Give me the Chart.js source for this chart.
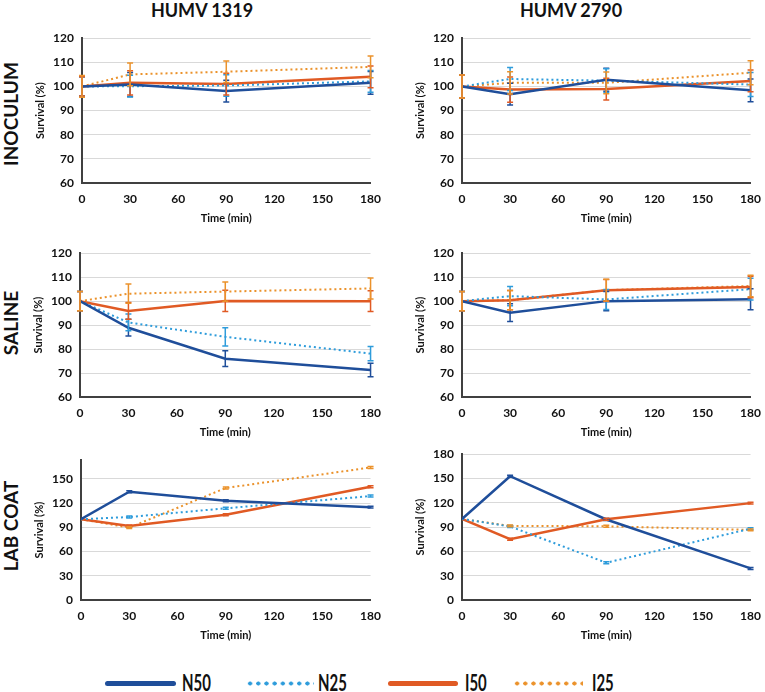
<!DOCTYPE html>
<html lang="en">
<head>
  <meta charset="UTF-8" />
  <title>Survival panels</title>
  <script src="https://cdn.jsdelivr.net/npm/chart.js"></script>
  <style>
    body {
      margin: 0;
      background: #fff;
      font-family: Lato, 'Open Sans', sans-serif;
    }
    .wrap {
      position: relative;
      width: 765px;
      height: 692px;
      overflow: hidden;
    }
    .wrap canvas {
      position: absolute;
    }
    .col-title {
      position: absolute;
      top: -1px;
      font-weight: bold;
      font-size: 18px;
      color: #111;
      transform: translateX(-50%);
      white-space: nowrap;
    }
    .row-title {
      position: absolute;
      font-weight: bold;
      font-size: 19px;
      color: #111;
      white-space: nowrap;
      transform: translate(-50%, -50%) rotate(-90deg);
    }
    .legend span {
      position: absolute;
    }
    .legend .txt {
      top: 669px;
      font-family: Lato, sans-serif;
      font-weight: bold;
      font-size: 22px;
      color: #111;
      transform: scaleX(0.68);
      transform-origin: left center;
    }
    .legend .solid {
      top: 681px;
      height: 5px;
      border-radius: 3px;
    }
    .legend .dots {
      top: 681px;
      height: 5px;
      background-size: 8.2px 5px;
      background-repeat: repeat-x;
    }
  </style>
</head>
<body>
<div class="wrap">
  <div class="col-title" style="left:202px">HUMV 1319</div>
  <div class="col-title" style="left:571px">HUMV 2790</div>
  <div class="row-title" style="left:10px; top:114px">INOCULUM</div>
  <div class="row-title" style="left:10px; top:323px">SALINE</div>
  <div class="row-title" style="left:10px; top:526px">LAB COAT</div>

  <canvas id="p1"></canvas>
  <canvas id="p2"></canvas>
  <canvas id="p3"></canvas>
  <canvas id="p4"></canvas>
  <canvas id="p5"></canvas>
  <canvas id="p6"></canvas>

  <div class="legend">
    <span class="solid" style="left:105px; width:71px; background:#1f4e9a"></span>
    <span class="txt" style="left:182px">N50</span>
    <span class="dots" style="left:246px; width:68px; background-image:radial-gradient(circle, #2e9cdb 1.8px, transparent 2.3px)"></span>
    <span class="txt" style="left:318px">N25</span>
    <span class="solid" style="left:388px; width:70px; background:#e05a24"></span>
    <span class="txt" style="left:465px">I50</span>
    <span class="dots" style="left:513px; width:70px; background-image:radial-gradient(circle, #eb922b 1.8px, transparent 2.3px)"></span>
    <span class="txt" style="left:592px">I25</span>
  </div>
</div>

<script>
// sampling times (min)
const times = [0, 30, 90, 180];
const seriesNames = ['N50', 'N25', 'I50', 'I25'];
const seriesColors = ['#1f4e9a', '#2e9cdb', '#e05a24', '#eb922b'];

// survival (%) per panel, rows in order N50, N25, I50, I25
const inoculum1319 = [
  [100, 100.8, 98.1, 101.5],
  [100, 100.1, 100.4, 102.1],
  [100, 101.5, 101.0, 104.0],
  [100, 105.0, 106.1, 108.1]
];
const inoculum1319Err = [
  [4, 5.0, 4.5, 4.7],
  [4, 4.5, 4.5, 4.5],
  [4, 5.0, 4.5, 4.5],
  [4.5, 4.7, 4.5, 4.5]
];
const inoculum2790 = [
  [100, 96.8, 102.8, 98.4],
  [100, 103.1, 102.4, 100.8],
  [100, 98.7, 98.9, 102.3],
  [100, 101.5, 101.5, 105.7]
];
const inoculum2790Err = [
  [4.8, 4.5, 4.8, 4.7],
  [4.8, 4.8, 4.9, 5.0],
  [4.8, 5.2, 4.5, 4.5],
  [4.8, 4.6, 4.5, 5.0]
];
const saline1319 = [
  [100, 88.9, 76.0, 71.3],
  [100, 91.1, 85.1, 78.1],
  [100, 95.9, 100.1, 100.0],
  [100, 103.1, 104.0, 105.3]
];
const saline1319Err = [
  [4, 3.5, 3.3, 2.8],
  [4, 3.5, 3.8, 3.0],
  [4, 3.5, 4.4, 4.3],
  [4, 4.0, 4.0, 4.4]
];
const saline2790 = [
  [100, 95.2, 100.0, 100.8],
  [100, 102.1, 100.7, 105.0],
  [100, 100.4, 104.5, 105.9],
  [100, 100.4, 104.6, 106.3]
];
const saline2790Err = [
  [4, 3.7, 4.0, 4.4],
  [4, 4.0, 4.2, 4.5],
  [4, 4.0, 4.5, 4.5],
  [4, 4.0, 4.5, 4.5]
];
const labcoat1319 = [
  [100, 134.0, 122.8, 114.9],
  [100, 102.7, 113.5, 128.6],
  [100, 91.6, 105.6, 140.2],
  [100, 89.6, 138.6, 164.0]
];
const labcoat2790 = [
  [100, 152.8, 99.4, 39.0],
  [100, 90.8, 46.0, 88.0],
  [100, 75.0, 99.6, 119.6],
  [100, 91.5, 91.0, 86.6]
];
const labcoatErr = [
  [0, 1.2, 1.2, 1.2],
  [0, 1.2, 1.2, 1.2],
  [0, 1.2, 1.2, 1.2],
  [0, 1.2, 1.2, 1.2]
];

const errorBars = {
  id: 'errorBars',
  afterDatasetsDraw(chart) {
    const { ctx, scales: { x, y } } = chart;
    chart.data.datasets.forEach(ds => {
      if (!ds.errors) return;
      ctx.save();
      ctx.strokeStyle = ds.borderColor;
      ctx.lineWidth = 1.5;
      ctx.setLineDash([]);
      ds.data.forEach((p, i) => {
        const e = ds.errors[i];
        if (!e) return;
        const px = x.getPixelForValue(p.x);
        const top = y.getPixelForValue(p.y + e);
        const bot = y.getPixelForValue(p.y - e);
        ctx.beginPath();
        ctx.moveTo(px, top); ctx.lineTo(px, bot);
        ctx.moveTo(px - 3, top); ctx.lineTo(px + 3, top);
        ctx.moveTo(px - 3, bot); ctx.lineTo(px + 3, bot);
        ctx.stroke();
      });
      ctx.restore();
    });
  }
};

// chart area box in page pixels -> canvas placement
function panel(id, box, values, errors, yMin, yMax, step) {
  const cv = document.getElementById(id);
  const w = box.r - box.l + 52 + 15;
  const h = box.b - box.t + 10 + 46;
  cv.style.left = (box.l - 52) + 'px';
  cv.style.top = (box.t - 10) + 'px';
  cv.width = w; cv.height = h;
  cv.style.width = w + 'px'; cv.style.height = h + 'px';

  const datasets = values.map((vals, s) => ({
    label: seriesNames[s],
    data: vals.map((v, i) => ({ x: times[i], y: v })),
    errors: errors[s],
    borderColor: seriesColors[s],
    backgroundColor: seriesColors[s],
    borderWidth: s % 2 === 0 ? 2.5 : 2,
    borderDash: s % 2 === 0 ? [] : [2, 3],
    pointRadius: 0,
    tension: 0,
    fill: false
  }));

  new Chart(cv.getContext('2d'), {
    type: 'line',
    data: { datasets },
    plugins: [errorBars],
    options: {
      responsive: false,
      animation: false,
      layout: { padding: { top: 10, right: 15, left: 0, bottom: 0 } },
      plugins: { legend: { display: false }, tooltip: { enabled: false } },
      scales: {
        x: {
          type: 'linear',
          min: 0, max: 180,
          ticks: { stepSize: 30, padding: 9, color: '#111', font: { family: 'Lato', weight: 'bold', size: 12 } },
          grid: { display: false, drawTicks: false },
          border: { color: '#404040', width: 2 },
          title: { display: true, text: 'Time (min)', color: '#111', font: { family: 'Lato', weight: 'bold', size: 11 } },
          afterFit(scale) { scale.height = 46; }
        },
        y: {
          min: yMin, max: yMax,
          ticks: { stepSize: step, padding: 8, color: '#111', font: { family: 'Lato', weight: 'bold', size: 12 } },
          grid: { color: '#d9d9d9', lineWidth: 1, drawTicks: false },
          border: { color: '#404040', width: 2 },
          title: { display: true, text: 'Survival (%)', color: '#111', font: { family: 'Lato', weight: 'bold', size: 11 } },
          afterBuildTicks(scale) { scale.ticks = scale.ticks.filter(t => t.value % step === 0); },
          afterFit(scale) { scale.width = 52; }
        }
      }
    }
  });
}

panel('p1', { l: 82, t: 33, r: 375, b: 183 }, inoculum1319, inoculum1319Err, 60, 120, 10);
panel('p2', { l: 462, t: 33, r: 755, b: 183 }, inoculum2790, inoculum2790Err, 60, 120, 10);
panel('p3', { l: 80, t: 248, r: 375, b: 397 }, saline1319, saline1319Err, 60, 120, 10);
panel('p4', { l: 462, t: 248, r: 755, b: 397 }, saline2790, saline2790Err, 60, 120, 10);
panel('p5', { l: 81, t: 455, r: 375, b: 600 }, labcoat1319, labcoatErr, 0, 173, 30);
panel('p6', { l: 462, t: 449, r: 755, b: 600 }, labcoat2790, labcoatErr, 0, 180, 30);
</script>
</body>
</html>
